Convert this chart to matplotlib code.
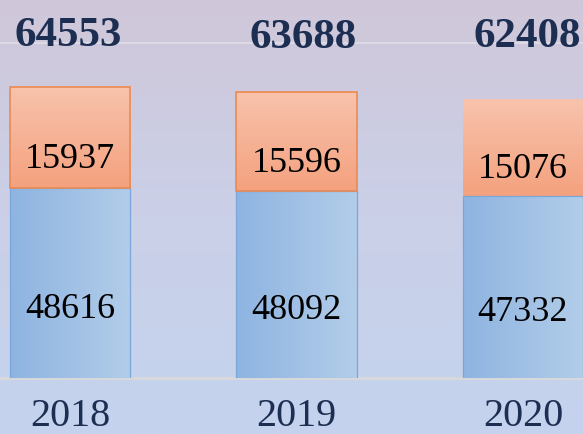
import numpy as np
import matplotlib
matplotlib.use("Agg")
import matplotlib.pyplot as plt
import matplotlib.transforms as mtransforms
from matplotlib.colors import LinearSegmentedColormap

years = ["2018", "2019", "2020"]
lower_vals = [48616, 48092, 47332]
upper_vals = [15937, 15596, 15076]
totals = [64553, 63688, 62408]

W, H = 583, 434
fig = plt.figure(figsize=(W / 100, H / 100), dpi=100)

# background gradient
bg = fig.add_axes([0, 0, 1, 1])
bg.set_axis_off()
bg_cmap = LinearSegmentedColormap.from_list("bg", ["#C4D3EE", "#CAD0E8", "#D0C7D9"])
grad = np.linspace(0, 1, 256).reshape(-1, 1)
bg.imshow(grad, aspect="auto", cmap=bg_cmap, extent=[0, 1, 0, 1], origin="lower")
bg.set_xlim(0, 1)
bg.set_ylim(0, 1)
bg.axhline(1 - 43 / H, color="#DEDAE3", lw=1.5)
bg.axhline(1 - 378 / H, color="#D8D8DC", lw=2.2)

# bar axes
base_px = H - 378
ax = fig.add_axes([0, base_px / H, 1, 1 - base_px / H])
ax.set_axis_off()
ax.patch.set_alpha(0)
ymin = 18800
scale = 157.0
px_per_unit = 226.5
xlim = (-70 / px_per_unit, 2 + (W - 523) / px_per_unit)
ylim = (ymin, ymin + (H - base_px) * scale)

x = np.arange(len(years))
width = 0.53
blue_cmap = LinearSegmentedColormap.from_list("b", ["#8EB4E1", "#B2CDE9"])
orange_cmap = LinearSegmentedColormap.from_list("o", ["#F4A17E", "#F8C3AD"])

lower_bars = ax.bar(x, lower_vals, width, color="none", edgecolor="#7AA6DA", lw=0.9, zorder=3)
upper_bars = ax.bar(x, upper_vals, width, bottom=lower_vals, color="none",
                    edgecolor=["#E98B55", "#E98B55", "none"], lw=1.2, zorder=3)

hgrad = np.linspace(0, 1, 256).reshape(1, -1)
vgrad = np.linspace(0, 1, 256).reshape(-1, 1)
for i in range(len(years)):
    r = lower_bars[i]
    ax.imshow(hgrad, aspect="auto", cmap=blue_cmap, origin="lower",
              extent=[r.get_x(), r.get_x() + r.get_width(), ymin, lower_vals[i]], zorder=2)
    r2 = upper_bars[i]
    ax.imshow(vgrad, aspect="auto", cmap=orange_cmap, origin="lower",
              extent=[r2.get_x(), r2.get_x() + r2.get_width(),
                      lower_vals[i], lower_vals[i] + upper_vals[i]], zorder=2)

ax.set_xlim(*xlim)
ax.set_ylim(*ylim)

serif = ["Liberation Serif", "DejaVu Serif"]
navy = "#1C2E52"
for i in range(len(years)):
    ax.text(x[i], lower_vals[i] + 0.28 * upper_vals[i], str(upper_vals[i]),
            ha="center", va="center", fontsize=26, family=serif, color="black", zorder=5)
    ax.text(x[i], ymin + 0.36 * (lower_vals[i] - ymin), str(lower_vals[i]),
            ha="center", va="center", fontsize=26, family=serif, color="black", zorder=5)

trans = mtransforms.blended_transform_factory(ax.transData, fig.transFigure)
total_y = [36, 38, 37]
year_y = [416, 417, 417]
total_dx = [-0.01, 0.03, 0.02]
for i in range(len(years)):
    ax.text(x[i] + total_dx[i], 1 - total_y[i] / H, str(totals[i]), transform=trans,
            ha="center", va="center", fontsize=31, fontweight="bold", family=serif,
            color=navy, zorder=5, clip_on=False)
    ax.text(x[i], 1 - year_y[i] / H, years[i], transform=trans,
            ha="center", va="center", fontsize=29, family=serif,
            color=navy, zorder=5, clip_on=False)

fig.savefig("out.png", dpi=100)
